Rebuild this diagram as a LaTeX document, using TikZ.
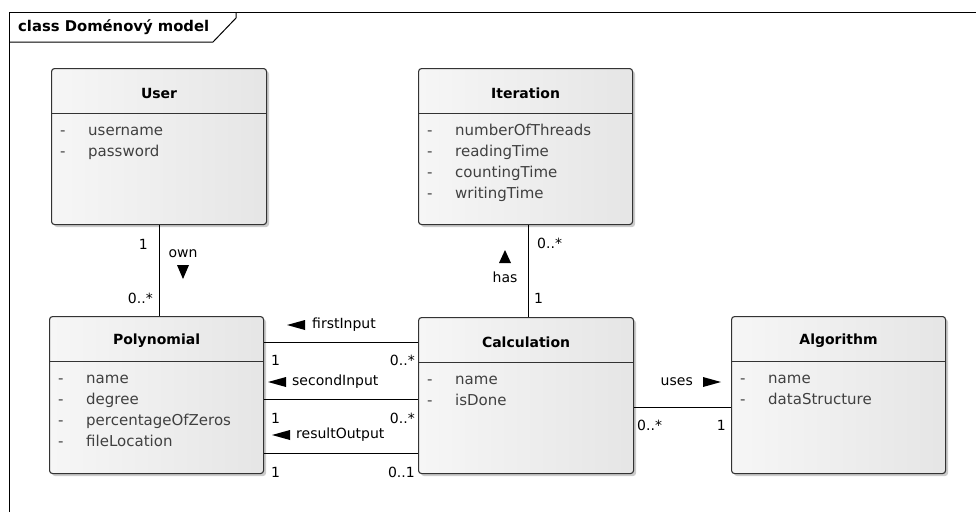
\documentclass[tikz,border=0pt]{standalone}
\usepackage{fontspec}
\setmainfont{DejaVu Sans}
\usetikzlibrary{shadows}
\begin{document}
\begin{tikzpicture}[x=1pt,y=-1pt,
  classbox/.style={draw=black!80, line width=1.1pt, rounded corners=3pt, anchor=north west,
    inner sep=0pt, left color=gray!7, middle color=white, right color=gray!20,
    drop shadow={shadow xshift=2.5pt, shadow yshift=-2.5pt, opacity=0.2, fill=black}},
  ctitle/.style={font=\fontsize{14}{16}\selectfont\bfseries, inner sep=0pt},
  attr/.style={font=\fontsize{15}{17}\selectfont, text=black!75, anchor=mid west, inner sep=0pt},
  lbl/.style={font=\fontsize{14}{16}\selectfont, inner sep=0pt},
  conn/.style={line width=0.9pt, black},
  sep/.style={line width=1.1pt, black!80},
]
\useasboundingbox (0,0) rectangle (976,512);

% diagram frame and its name tab
\draw[line width=1pt] (9,512) -- (9,12) -- (976,12);
\draw[line width=1pt] (9,42) -- (213,42) -- (236,18) -- (236,12);
\node[font=\fontsize{14.8}{17}\selectfont\bfseries, anchor=west, inner sep=0pt] (frametitle) at (18,27) {class Doménový model};

% classes: body, compartment line, name
\newcommand\umlclass[6]{%
  \node[classbox, minimum width=#4pt, minimum height=#5pt] (#1) at (#2,#3) {};
  \draw[sep] ([yshift=-45.5pt]#1.north west) -- ([yshift=-45.5pt]#1.north east);
  \node[ctitle] (#1-name) at ([yshift=-25pt]#1.north) {#6};
}
% attributes, one per row
\newcommand\umlattrs[2]{%
  \foreach \t [count=\i] in {#2} {
    \node[attr] (#1-d\i) at ([xshift=9pt, yshift={-(65+21*(\i-1))*1pt}]#1.north west) {-};
    \node[attr] (#1-a\i) at ([xshift=37pt, yshift={-(65+21*(\i-1))*1pt}]#1.north west) {\t};
  }
}

\umlclass{user}{51}{68}{215}{156}{User}
\umlattrs{user}{username,password}
\umlclass{iter}{418}{68}{214}{156}{Iteration}
\umlattrs{iter}{numberOfThreads,readingTime,countingTime,writingTime}
\umlclass{poly}{49}{316}{214}{157}{Polynomial}
\umlattrs{poly}{name,degree,percentageOfZeros,fileLocation}
\umlclass{calc}{418}{317}{215}{156}{Calculation}
\umlattrs{calc}{name,isDone}
\umlclass{algo}{731}{316}{214}{157}{Algorithm}
\umlattrs{algo}{name,dataStructure}

% User -- Polynomial (own)
\draw[conn] (user.south) -- (user.south |- poly.north);
\node[lbl, anchor=east] (own-m1) at (148,244) {1};
\node[lbl] (own-l) at (183,254) {own};
\fill (177,265) -- (189,265) -- (183,279) -- cycle;
\node[lbl, anchor=east] (own-m2) at (153,298) {0..*};

% Iteration -- Calculation (has)
\draw[conn] ([xshift=3pt]iter.south) coordinate (h1) -- (h1 |- calc.north);
\node[lbl, anchor=west] (has-m1) at (537,243) {0..*};
\node[lbl] (has-l) at (505,277) {has};
\fill (499,263) -- (511,263) -- (505,250) -- cycle;
\node[lbl, anchor=west] (has-m2) at (534,298) {1};

% Polynomial -- Calculation (firstInput)
\draw[conn] ([yshift=-26pt]poly.north east) coordinate (f1) -- (f1 -| calc.west);
\fill (287,325) -- (305,320) -- (305,330) -- cycle;
\node[lbl, anchor=west] (fi-l) at (312,325) {firstInput};
\node[lbl, anchor=west] (fi-m1) at (271,360) {1};
\node[lbl, anchor=east] (fi-m2) at (415,360) {0..*};

% Polynomial -- Calculation (secondInput)
\draw[conn] ([yshift=-83pt]poly.north east) coordinate (s1) -- (s1 -| calc.west);
\fill (268,382) -- (286,377) -- (286,387) -- cycle;
\node[lbl, anchor=west] (si-l) at (292,382) {secondInput};
\node[lbl, anchor=west] (si-m1) at (271,418) {1};
\node[lbl, anchor=east] (si-m2) at (415,418) {0..*};

% Polynomial -- Calculation (resultOutput)
\draw[conn] ([yshift=-137pt]poly.north east) coordinate (r1) -- (r1 -| calc.west);
\fill (272,435) -- (290,430) -- (290,440) -- cycle;
\node[lbl, anchor=west] (ro-l) at (296,435) {resultOutput};
\node[lbl, anchor=west] (ro-m1) at (271,472) {1};
\node[lbl, anchor=east] (ro-m2) at (415,472) {0..1};

% Calculation -- Algorithm (uses)
\draw[conn] ([yshift=-90pt]calc.north east) coordinate (u1) -- (u1 -| algo.west);
\node[lbl, anchor=east] (uses-l) at (693,382) {uses};
\fill (703,377) -- (703,387) -- (721,382) -- cycle;
\node[lbl, anchor=west] (uses-m1) at (637,425) {0..*};
\node[lbl, anchor=east] (uses-m2) at (726,425) {1};
\end{tikzpicture}
\end{document}
